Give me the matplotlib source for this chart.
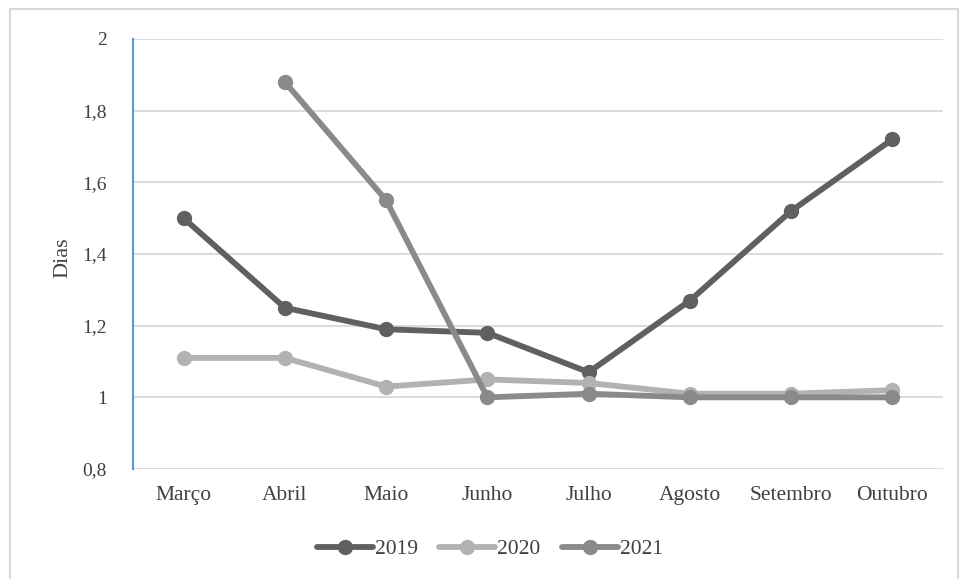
import matplotlib
matplotlib.use("Agg")
import matplotlib.pyplot as plt
import numpy as np
from matplotlib.patches import Rectangle

months = ["Março", "Abril", "Maio", "Junho", "Julho", "Agosto", "Setembro", "Outubro"]
y2019 = [1.50, 1.25, 1.19, 1.18, 1.07, 1.27, 1.52, 1.72]
y2020 = [1.11, 1.11, 1.03, 1.05, 1.04, 1.01, 1.01, 1.02]
y2021 = [np.nan, 1.88, 1.55, 1.00, 1.01, 1.00, 1.00, 1.00]
yticks = [0.8, 1.0, 1.2, 1.4, 1.6, 1.8, 2.0]
ytick_labels = ["0,8", "1", "1,2", "1,4", "1,6", "1,8", "2"]

plt.rcParams['font.family'] = ['Liberation Serif', 'DejaVu Serif']

W, H = 960, 579
fig = plt.figure(figsize=(9.6, 5.79), dpi=100)
ax = fig.add_axes([133 / W, 1 - 469 / H, 810 / W, 430 / H])

# outer border
fig.patches.append(Rectangle((10 / W, -0.01), 948 / W, 1 - 9 / H + 0.01,
                             transform=fig.transFigure, fill=False,
                             edgecolor="#d9d9d9", linewidth=1.5))

x = np.arange(len(months))
series = [("2019", y2019, "#606060"), ("2020", y2020, "#b2b2b2"), ("2021", y2021, "#8a8a8a")]
for name, vals, col in series:
    ax.plot(x, vals, color=col, linewidth=4.2, marker="o", markersize=10,
            label=name, solid_capstyle="round")

ax.set_xlim(-0.5, len(months) - 0.5)
ax.set_ylim(0.8, 2.0)
ax.set_yticks(yticks)
ax.set_yticklabels(ytick_labels)
ax.set_xticks(x)
ax.set_xticklabels(months)
ax.tick_params(axis="both", length=0, colors="#404040")
ax.tick_params(axis="y", pad=19, labelsize=14)
ax.tick_params(axis="x", pad=12, labelsize=15.5)
ax.grid(axis="y", color="#d9d9d9", linewidth=1.3)
ax.set_axisbelow(True)
for s in ["top", "right", "bottom"]:
    ax.spines[s].set_visible(False)
ax.spines["left"].set_color("#5b9bd5")
ax.spines["left"].set_linewidth(1.5)
ax.spines["left"].set_zorder(1)

ax.set_ylabel("Dias", fontsize=16, color="#404040")
ax.yaxis.set_label_coords((72 - 133) / 810, (469 - 258) / 430)

leg = fig.legend(loc="center", bbox_to_anchor=(490 / W, 1 - 549 / H), ncol=3,
                 frameon=False, fontsize=15.5, handlelength=2.6, handletextpad=0.1,
                 columnspacing=1.0)
for t in leg.get_texts():
    t.set_color("#404040")

fig.savefig("out.png", dpi=100)
